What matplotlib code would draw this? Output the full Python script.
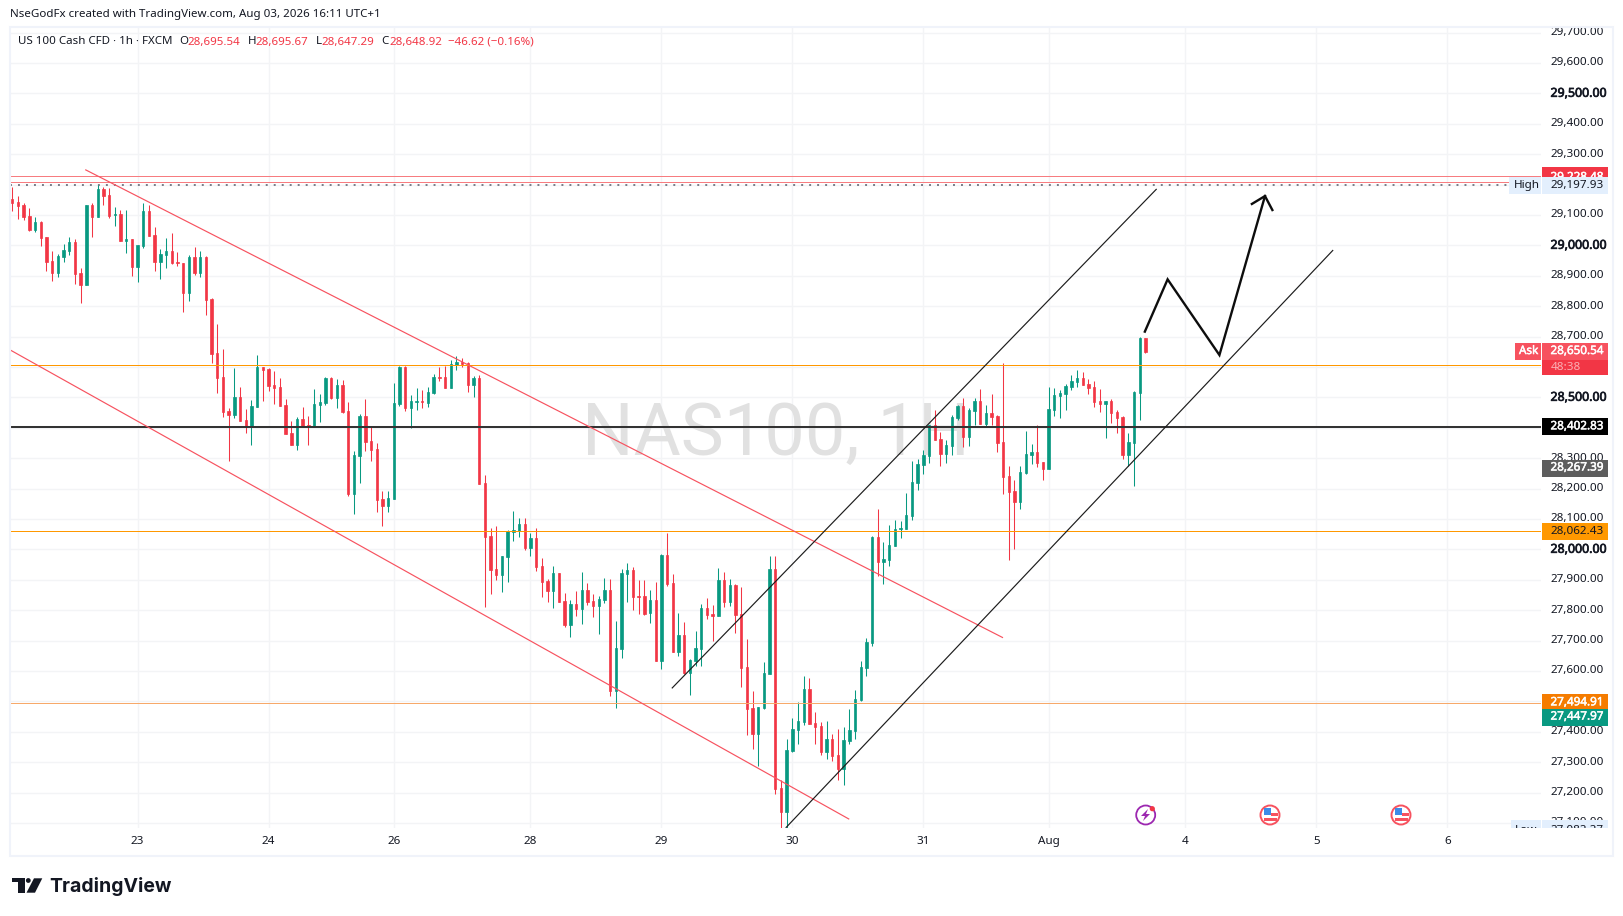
import matplotlib
matplotlib.use("Agg")
import matplotlib.pyplot as plt
import matplotlib.patheffects as pe
from matplotlib.patches import Rectangle, Circle, Polygon

plt.rcParams['font.family'] = ['Noto Sans', 'DejaVu Sans']

# hourly candles
opens = [29152, 29142, 29133, 29096, 29050, 29077, 29027, 28948, 28909, 28961,
         28981, 29011, 28909, 28869, 29133, 29093, 29185, 29165, 29100, 29103,
         29014, 29021, 28929, 28998, 29113, 29034, 28945, 28968, 28981, 28945,
         28942, 28843, 28961, 28909, 28961, 28823, 28646, 28567, 28455, 28442,
         28501, 28425, 28402, 28468, 28600, 28593, 28541, 28534, 28475, 28383,
         28343, 28429, 28409, 28402, 28475, 28481, 28563, 28498, 28541, 28455,
         28182, 28307, 28439, 28356, 28330, 28165, 28142, 28165, 28478, 28600,
         28465, 28485, 28488, 28481, 28514, 28567, 28567, 28531, 28606, 28616,
         28613, 28541, 28564, 28218, 28044, 27935, 27915, 27975, 28057, 28060,
         28083, 28004, 28037, 27945, 27896, 27863, 27922, 27830, 27751, 27820,
         27803, 27866, 27830, 27813, 27833, 27866, 27534, 27672, 27919, 27932,
         27846, 27846, 27790, 27833, 27632, 27981, 27889, 27662, 27718, 27593,
         27632, 27672, 27807, 27787, 27781, 27899, 27827, 27883, 27787, 27613,
         27478, 27392, 27478, 27590, 27935, 27215, 27136, 27336, 27405, 27432,
         27540, 27428, 27418, 27333, 27376, 27323, 27277, 27369, 27402, 27504,
         27609, 27691, 28040, 27958, 27965, 28011, 28066, 28066, 28109, 28218,
         28277, 28307, 28409, 28363, 28313, 28340, 28432, 28471, 28369, 28455,
         28488, 28412, 28448, 28438, 28353, 28241, 28192, 28155, 28251, 28310,
         28320, 28287, 28264, 28458, 28504, 28511, 28534, 28550, 28563, 28543,
         28534, 28488, 28478, 28488, 28451, 28435, 28310, 28349, 28514, 28695.54]
highs = [29193, 29162, 29139, 29123, 29093, 29080, 29027, 28981, 28971, 29004,
         29027, 29021, 28925, 29133, 29139, 29198, 29192, 29188, 29126, 29116,
         29116, 29021, 29001, 29139, 29133, 29060, 28988, 29024, 29040, 28978,
         28942, 28968, 28994, 28981, 28965, 28827, 28741, 28659, 28465, 28597,
         28534, 28462, 28491, 28639, 28600, 28597, 28587, 28563, 28494, 28422,
         28435, 28468, 28439, 28527, 28511, 28567, 28567, 28560, 28557, 28485,
         28324, 28445, 28494, 28406, 28350, 28192, 28192, 28547, 28603, 28603,
         28508, 28531, 28524, 28534, 28577, 28600, 28603, 28623, 28636, 28629,
         28616, 28570, 28573, 28244, 28070, 28076, 27978, 28064, 28126, 28103,
         28103, 28054, 28070, 27971, 27902, 27945, 27922, 27856, 27833, 27863,
         27925, 27889, 27853, 27846, 27905, 27902, 27764, 27935, 27955, 27942,
         27899, 27899, 27866, 27893, 27985, 28054, 27919, 27790, 27761, 27639,
         27731, 27820, 27840, 27817, 27938, 27925, 27902, 27886, 27876, 27705,
         27534, 27481, 27629, 27978, 27978, 27241, 27376, 27445, 27497, 27583,
         27576, 27465, 27432, 27435, 27392, 27409, 27415, 27474, 27537, 27632,
         27708, 28043, 28132, 28024, 28080, 28096, 28093, 28185, 28290, 28297,
         28326, 28409, 28458, 28386, 28359, 28441, 28474, 28497, 28465, 28497,
         28527, 28474, 28511, 28441, 28613, 28274, 28228, 28274, 28389, 28346,
         28409, 28287, 28534, 28530, 28524, 28543, 28573, 28590, 28583, 28560,
         28553, 28527, 28488, 28494, 28458, 28438, 28382, 28520, 28698, 28695.67]
lows = [29113, 29087, 29083, 29047, 29044, 28998, 28915, 28883, 28896, 28945,
        28968, 28873, 28810, 28869, 29027, 29093, 29133, 29090, 29064, 29014,
        28975, 28899, 28879, 28991, 29031, 28915, 28889, 28925, 28939, 28932,
        28781, 28817, 28902, 28896, 28771, 28613, 28514, 28435, 28291, 28432,
        28422, 28383, 28343, 28468, 28488, 28521, 28478, 28471, 28379, 28343,
        28327, 28406, 28343, 28402, 28419, 28475, 28494, 28465, 28448, 28175,
        28116, 28218, 28324, 28291, 28123, 28077, 28123, 28165, 28472, 28455,
        28399, 28458, 28465, 28468, 28511, 28554, 28531, 28531, 28590, 28600,
        28518, 28501, 28215, 27810, 27853, 27899, 27860, 27893, 28027, 28041,
        27998, 27978, 27929, 27843, 27827, 27807, 27827, 27744, 27711, 27781,
        27754, 27817, 27777, 27721, 27823, 27517, 27478, 27642, 27827, 27800,
        27787, 27784, 27757, 27632, 27606, 27879, 27662, 27649, 27590, 27521,
        27616, 27616, 27771, 27698, 27781, 27810, 27813, 27725, 27547, 27389,
        27343, 27287, 27475, 27590, 27195, 27083, 27083, 27333, 27361, 27422,
        27425, 27359, 27323, 27310, 27303, 27241, 27224, 27359, 27376, 27501,
        27583, 27682, 27912, 27886, 27945, 28011, 28037, 28066, 28096, 28195,
        28247, 28284, 28359, 28274, 28284, 28310, 28425, 28336, 28340, 28409,
        28412, 28405, 28409, 28320, 28182, 27965, 28001, 28132, 28247, 28280,
        28270, 28228, 28264, 28438, 28432, 28458, 28524, 28534, 28540, 28511,
        28468, 28451, 28366, 28415, 28382, 28297, 28274, 28208, 28425, 28647.29]
closes = [29140, 29129, 29093, 29050, 29077, 29024, 28945, 28909, 28965, 28985,
          29011, 28906, 28869, 29133, 29093, 29185, 29162, 29096, 29103, 29014,
          29021, 28929, 29001, 29113, 29031, 28945, 28971, 28981, 28942, 28942,
          28843, 28961, 28909, 28961, 28820, 28642, 28563, 28452, 28442, 28501,
          28422, 28406, 28471, 28600, 28590, 28537, 28531, 28471, 28379, 28343,
          28429, 28406, 28402, 28478, 28485, 28563, 28498, 28541, 28452, 28182,
          28310, 28439, 28353, 28327, 28162, 28142, 28169, 28481, 28600, 28465,
          28488, 28488, 28485, 28518, 28567, 28564, 28531, 28610, 28616, 28610,
          28541, 28564, 28215, 28041, 27932, 27915, 27978, 28060, 28064, 28083,
          28004, 28037, 27942, 27893, 27863, 27922, 27827, 27751, 27820, 27803,
          27866, 27827, 27813, 27836, 27866, 27534, 27675, 27922, 27932, 27843,
          27843, 27787, 27833, 27632, 27981, 27886, 27662, 27718, 27593, 27636,
          27675, 27807, 27784, 27781, 27899, 27827, 27883, 27784, 27610, 27475,
          27392, 27481, 27593, 27935, 27211, 27136, 27340, 27409, 27435, 27540,
          27425, 27415, 27333, 27376, 27320, 27277, 27372, 27405, 27507, 27613,
          27695, 28040, 27958, 27968, 28014, 28066, 28070, 28113, 28221, 28280,
          28310, 28409, 28359, 28313, 28343, 28435, 28471, 28369, 28458, 28488,
          28412, 28448, 28435, 28349, 28238, 28188, 28155, 28254, 28313, 28320,
          28284, 28264, 28461, 28507, 28514, 28537, 28553, 28563, 28540, 28530,
          28484, 28478, 28488, 28448, 28432, 28310, 28353, 28517, 28695, 28648.92]

day_ticks = [22, 45, 67, 91, 114, 137, 160, 182, 206, 229, 252]
day_labels = ['23', '24', '26', '28', '29', '30', '31', 'Aug', '4', '5', '6']
price_ticks = list(range(27100, 29701, 100))
bold_ticks = [28000, 28500, 29000, 29500]

# drawings as (bar index, price)
red_upper = ([12.9, 173.9], [29248, 27710])
red_lower = ([-0.4, 146.9], [28656, 27113])
black_upper = ([115.9, 200.9], [27544, 29184])
black_lower = ([135.9, 231.9], [27085, 28983])
arrow_x = [198.9, 202.9, 212, 220]
arrow_y = [28716, 28888, 28639, 29162]
barb_x = [217.7, 220, 221.3]
barb_y = [29136, 29162, 29116]

GREEN = '#089981'
RED = '#f23645'
TEXT = '#131722'
W, H = 1623, 916
LEFT, RIGHT, TOP, BOTTOM = 10, 1541, 27, 828
PX_PER_POINT = 0.304
X0, BAR = 12.3, 5.694
FS = 8.4

fig = plt.figure(figsize=(W / 100, H / 100), dpi=100, facecolor='white')


def px_rect(l, t, r, b):
    return [l / W, 1 - b / H, (r - l) / W, (b - t) / H]


ax = fig.add_axes(px_rect(LEFT, TOP, RIGHT, BOTTOM))
ax.set_xlim((LEFT - X0) / BAR, (RIGHT - X0) / BAR)
ymax = 29500 + (93.3 - TOP) / PX_PER_POINT
ymin = 29500 - (BOTTOM - 93.3) / PX_PER_POINT
ax.set_ylim(ymin, ymax)
for s in ax.spines.values():
    s.set_visible(False)
ax.set_xticks(day_ticks)
ax.set_xticklabels(day_labels, fontsize=FS, color=TEXT)
ax.set_yticks(price_ticks)
ax.tick_params(left=False, bottom=False, labelleft=False, pad=2.5)
ax.grid(True, color='#f3f4f6', linewidth=1.0)
ax.set_axisbelow(True)

# watermark
ax.text(0.5, (BOTTOM - 455) / (BOTTOM - TOP), 'NAS100, 1H', transform=ax.transAxes, ha='center',
        va='baseline', fontsize=52, color='#e1e1e1', zorder=1, family='Roboto')

# candles
for i in range(len(opens)):
    c = GREEN if closes[i] >= opens[i] else RED
    ax.vlines(i, lows[i], highs[i], color=c, linewidth=0.75, zorder=3)
    ax.bar(i, abs(closes[i] - opens[i]), bottom=min(opens[i], closes[i]), width=0.42,
           color=c, edgecolor=c, linewidth=0.5, zorder=3)

# horizontal levels
ax.axhline(29228.48, color='#f77c80', linewidth=0.72, zorder=4)
ax.axhline(29207, color='#f77c80', linewidth=0.72, zorder=4)
ax.axhline(29197.93, color='#787b86', linewidth=1.4, linestyle=(0, (1, 3.11)), zorder=2)
ax.axhline(28605, color='#ff9800', linewidth=0.72, zorder=4)
ax.axhline(28402.83, color='#333333', linewidth=1.45, zorder=4)
ax.axhline(28060, color='#ff9800', linewidth=0.72, zorder=4)
ax.axhline(27494.91, color='#f7a96a', linewidth=0.72, zorder=4)

# trend lines
ax.plot(*red_upper, color='#f7525f', linewidth=0.85, zorder=5)
ax.plot(*red_lower, color='#f7525f', linewidth=0.85, zorder=5)
ax.plot(*black_upper, color='#1c1c1c', linewidth=0.85, zorder=5)
ax.plot(*black_lower, color='#1c1c1c', linewidth=0.85, zorder=5)
ax.plot(arrow_x, arrow_y, color='#0d0d0d', linewidth=1.7, zorder=6, solid_joinstyle='miter')
ax.plot(barb_x, barb_y, color='#0d0d0d', linewidth=1.7, zorder=6, solid_joinstyle='miter')

# price scale, x runs in pixels so tags can line up
pax = fig.add_axes(px_rect(1500, TOP, 1613, BOTTOM), sharey=ax)
pax.set_xlim(1500, 1613)
pax.axis('off')
pax.set_ylim(ymin, ymax)

for p in price_ticks:
    t = pax.text(1550.5, p, f'{p:,.2f}', fontsize=FS, color=TEXT, va='center', ha='left',
                 clip_on=True, zorder=2)
    if p in bold_ticks:
        # the installed Noto has no usable bold here, thicken the strokes instead
        t.set_path_effects([pe.withStroke(linewidth=0.5, foreground=TEXT)])
        t.set_fontsize(FS + 0.5)

tag_z = [3]


def tag(price, text, bg, fg='white', x0=1542, x1=1608, px_h=17, tx=1550.5, dy=0, text_dy=0, heavy=False):
    h = px_h / PX_PER_POINT
    c = price - dy / PX_PER_POINT
    tag_z[0] += 2
    pax.add_patch(Rectangle((x0, c - h / 2), x1 - x0, h, facecolor=bg, edgecolor='none', zorder=tag_z[0]))
    t = pax.text(tx, c - text_dy / PX_PER_POINT, text, fontsize=FS, color=fg, va='center', ha='left',
                 clip_on=True, zorder=tag_z[0] + 1)
    if heavy:
        t.set_path_effects([pe.withStroke(linewidth=0.35, foreground=fg)])


tag(29228.48, '29,228.48', RED, text_dy=2, heavy=True)
tag(29197.93, 'High', '#e3effd', TEXT, x0=1509, x1=1541, tx=1514)
tag(29197.93, '29,197.93', '#e3effd', TEXT)
tag(28650.54, '48:38', RED, '#fbb0b5', px_h=15, dy=15.5)
tag(28650.54, '28,650.54', '#f7525f', heavy=True)
tag(28650.54, 'Ask', '#f7525f', x0=1515, x1=1541, tx=1519, heavy=True)
tag(28402.83, '28,402.83', '#000000', heavy=True)
tag(28267.39, '28,267.39', '#5d5d5d', heavy=True)
tag(28058, '28,062.43', '#ff9800', TEXT)
tag(27494.91, '27,494.91', '#f57c00', heavy=True)
tag(27447.97, '27,447.97', GREEN, heavy=True)
tag(27082.27, 'Low', '#e3effd', TEXT, x0=1511, x1=1541, tx=1515, text_dy=2.5)
tag(27082.27, '27,082.27', '#e3effd', TEXT, text_dy=2.5)

# page furniture in pixel coordinates
ov = fig.add_axes([0, 0, 1, 1], zorder=10)
ov.set_xlim(0, W)
ov.set_ylim(H, 0)
ov.axis('off')
ov.add_patch(Rectangle((10, 26.5), 1603, 829.5, fill=False, edgecolor='#f0f3fa', linewidth=1.5))

ov.text(10, 15, 'NseGodFx created with TradingView.com, Aug 03, 2026 16:11 UTC+1',
        fontsize=8.3, color=TEXT, va='center')
legend = [(18, 'US 100 Cash CFD · 1h · FXCM', TEXT), (179, 'O', TEXT), (187.5, '28,695.54', RED),
          (247.5, 'H', TEXT), (255, '28,695.67', RED), (316, 'L', TEXT), (321, '28,647.29', RED),
          (381, 'C', TEXT), (389, '28,648.92', RED), (448, '−46.62 (−0.16%)', RED)]
for x, s, c in legend:
    ov.text(x, 42, s, fontsize=8.3, color=c, va='center')

# logo
logo = '#131722'
ov.add_patch(Polygon([(11.7, 878.3), (25, 878.3), (25, 892.7), (17.7, 892.7), (17.7, 882.3), (11.7, 882.3)], color=logo, lw=0))
ov.add_patch(Circle((28.3, 880.5), 2.4, color=logo, lw=0))
ov.add_patch(Polygon([(34, 878.3), (42.3, 878.3), (35, 892.7), (26.5, 892.7)], color=logo, lw=0))
ov.text(49, 887, 'TradingView', fontsize=14, fontweight='bold', family='Inter', color=logo, va='center')

# event icons under the bars
ov.add_patch(Circle((1145.7, 815), 9.5, facecolor='white', edgecolor='#9c27b0', linewidth=1.3))
ov.add_patch(Polygon([(1148, 809), (1141, 816), (1145, 816), (1143, 821), (1150, 814), (1146, 814)], color='#9c27b0', lw=0))
ov.add_patch(Circle((1152.3, 808.7), 2.6, color=RED, lw=0))
for cx in [1270, 1401]:
    ov.add_patch(Circle((cx, 815), 9.5, facecolor='white', edgecolor='#f7525f', linewidth=1.4))
    ov.add_patch(Rectangle((cx - 6.5, 808), 7, 7, color='#3d8be8', lw=0))
    ov.add_patch(Rectangle((cx + 0.5, 812.5), 7, 3, color='#f7525f', lw=0))
    ov.add_patch(Rectangle((cx - 6.5, 818), 13, 3, color='#f7525f', lw=0))

fig.savefig('out.png', dpi=100)
